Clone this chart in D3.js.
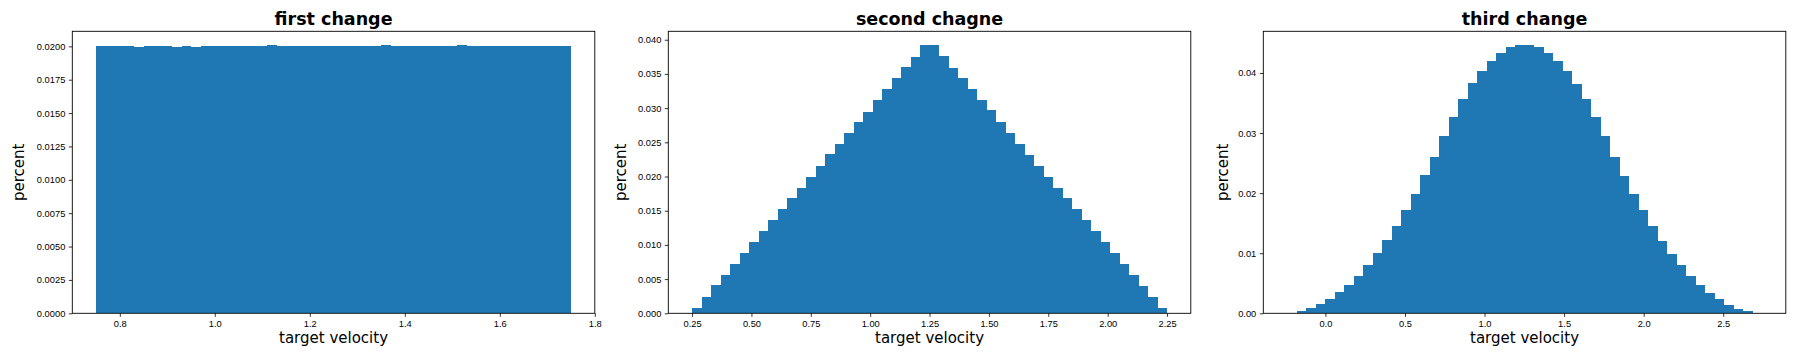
<!DOCTYPE html>
<html>
<head>
<meta charset="utf-8">
<script src="https://cdn.jsdelivr.net/npm/d3@7"></script>
<style>
  body { margin: 0; background: #fff; }
  svg { display: block; font-family: "DejaVu Sans", sans-serif; }
  .tick text { font-size: 9.3px; fill: #000; }
  .tick line { stroke: #000; stroke-width: 0.8; }
</style>
</head>
<body>
<svg id="chart" width="1800" height="360"></svg>
<script>
// panel titles
const titles = ["first change", "second chagne", "third change"];

// histogram bin layout (start of first bin, bin width)
const binStart = [0.75, 0.25, -0.241];
const binWidth = [0.02, 0.04, 0.0597];

// bar heights
const firstValues = [
  0.02006, 0.02006, 0.02006, 0.02000, 0.01994, 0.02006, 0.02000, 0.02006, 0.01994, 0.02006,
  0.01994, 0.02000, 0.02000, 0.02006, 0.02006, 0.02006, 0.02000, 0.02000, 0.02012, 0.02006,
  0.02000, 0.02006, 0.02000, 0.02006, 0.02000, 0.02000, 0.02006, 0.02000, 0.02006, 0.02006,
  0.02012, 0.02006, 0.02006, 0.02006, 0.02000, 0.02000, 0.02000, 0.02000, 0.02012, 0.02006,
  0.02000, 0.02000, 0.02000, 0.02000, 0.02006, 0.02000, 0.02006, 0.02000, 0.02000, 0.02000
];
const secondValues = [
  0.00073, 0.00234, 0.00409, 0.00555, 0.00715, 0.00876, 0.01036, 0.01197, 0.01358, 0.01518,
  0.01679, 0.01839, 0.02000, 0.02160, 0.02336, 0.02482, 0.02642, 0.02803, 0.02949, 0.03124,
  0.03285, 0.03445, 0.03606, 0.03752, 0.03927, 0.03927, 0.03766, 0.03591, 0.03445, 0.03285,
  0.03124, 0.02978, 0.02803, 0.02642, 0.02482, 0.02321, 0.02160, 0.02000, 0.01839, 0.01679,
  0.01518, 0.01358, 0.01197, 0.01036, 0.00876, 0.00715, 0.00555, 0.00394, 0.00234, 0.00073
];
const thirdValues = [
  0.00002, 0.00039, 0.00089, 0.00155, 0.00238, 0.00354, 0.00470, 0.00620, 0.00802, 0.01001,
  0.01217, 0.01450, 0.01715, 0.01981, 0.02296, 0.02595, 0.02943, 0.03275, 0.03574, 0.03840,
  0.04039, 0.04205, 0.04338, 0.04437, 0.04470, 0.04470, 0.04437, 0.04338, 0.04205, 0.04039,
  0.03823, 0.03574, 0.03275, 0.02943, 0.02595, 0.02279, 0.01981, 0.01715, 0.01450, 0.01201,
  0.00985, 0.00802, 0.00620, 0.00470, 0.00337, 0.00238, 0.00138, 0.00072, 0.00039, 0.00002
];
const values = [firstValues, secondValues, thirdValues];

// tick labels
const xTicks = [
  [0.8, 1.0, 1.2, 1.4, 1.6, 1.8],
  [0.25, 0.50, 0.75, 1.00, 1.25, 1.50, 1.75, 2.00, 2.25],
  [0.0, 0.5, 1.0, 1.5, 2.0, 2.5]
];
const yTicks = [
  [0, 0.0025, 0.005, 0.0075, 0.01, 0.0125, 0.015, 0.0175, 0.02],
  [0, 0.005, 0.01, 0.015, 0.02, 0.025, 0.03, 0.035, 0.04],
  [0, 0.01, 0.02, 0.03, 0.04]
];
const xFormat = [".1f", ".2f", ".1f"];
const yFormat = [".4f", ".3f", ".2f"];

const svg = d3.select("#chart");
const axLeft = [72.3, 668.3, 1263.3];
const axWidth = 522.5;
const axTop = 31.3, axBottom = 313.3;
const barColor = "#1f77b4";

values.forEach((vals, p) => {
    const n = vals.length;
    const lo = binStart[p], hi = binStart[p] + n * binWidth[p];
    const pad = (hi - lo) * 0.05;
    const x = d3.scaleLinear()
        .domain([lo - pad, hi + pad])
        .range([axLeft[p], axLeft[p] + axWidth]);
    const y = d3.scaleLinear()
        .domain([0, d3.max(vals) * 1.05])
        .range([axBottom, axTop]);

    const g = svg.append("g");

    g.append("g")
        .selectAll("rect")
        .data(vals)
        .join("rect")
        .attr("x", (d, i) => x(lo + i * binWidth[p]))
        .attr("width", (d, i) => x(lo + (i + 1) * binWidth[p]) - x(lo + i * binWidth[p]))
        .attr("y", d => y(d))
        .attr("height", d => y(0) - y(d))
        .attr("fill", barColor)
        .attr("shape-rendering", "crispEdges");

    g.append("g")
        .attr("transform", `translate(0,${axBottom})`)
        .call(d3.axisBottom(x).tickValues(xTicks[p])
            .tickFormat(d3.format(xFormat[p])).tickSize(3.5).tickPadding(3.5).tickSizeOuter(0))
        .call(a => a.select(".domain").remove());

    g.append("g")
        .attr("transform", `translate(${axLeft[p]},0)`)
        .call(d3.axisLeft(y).tickValues(yTicks[p])
            .tickFormat(d3.format(yFormat[p])).tickSize(3.5).tickPadding(3.5).tickSizeOuter(0))
        .call(a => a.select(".domain").remove());

    // frame
    g.append("rect")
        .attr("x", axLeft[p])
        .attr("y", axTop)
        .attr("width", axWidth)
        .attr("height", axBottom - axTop)
        .attr("fill", "none")
        .attr("stroke", "#000")
        .attr("stroke-width", 0.9);

    const cx = axLeft[p] + axWidth / 2;
    g.append("text")
        .attr("x", cx)
        .attr("y", 25)
        .attr("text-anchor", "middle")
        .style("font-size", "17.5px")
        .style("font-weight", "bold")
        .text(titles[p]);

    g.append("text")
        .attr("x", cx)
        .attr("y", 343)
        .attr("text-anchor", "middle")
        .style("font-size", "15px")
        .text("target velocity");

    const yLabX = [23.5, 625.5, 1227.5][p];
    g.append("text")
        .attr("transform", `translate(${yLabX},${(axTop + axBottom) / 2}) rotate(-90)`)
        .attr("text-anchor", "middle")
        .style("font-size", "15px")
        .text("percent");
});
</script>
</body>
</html>
